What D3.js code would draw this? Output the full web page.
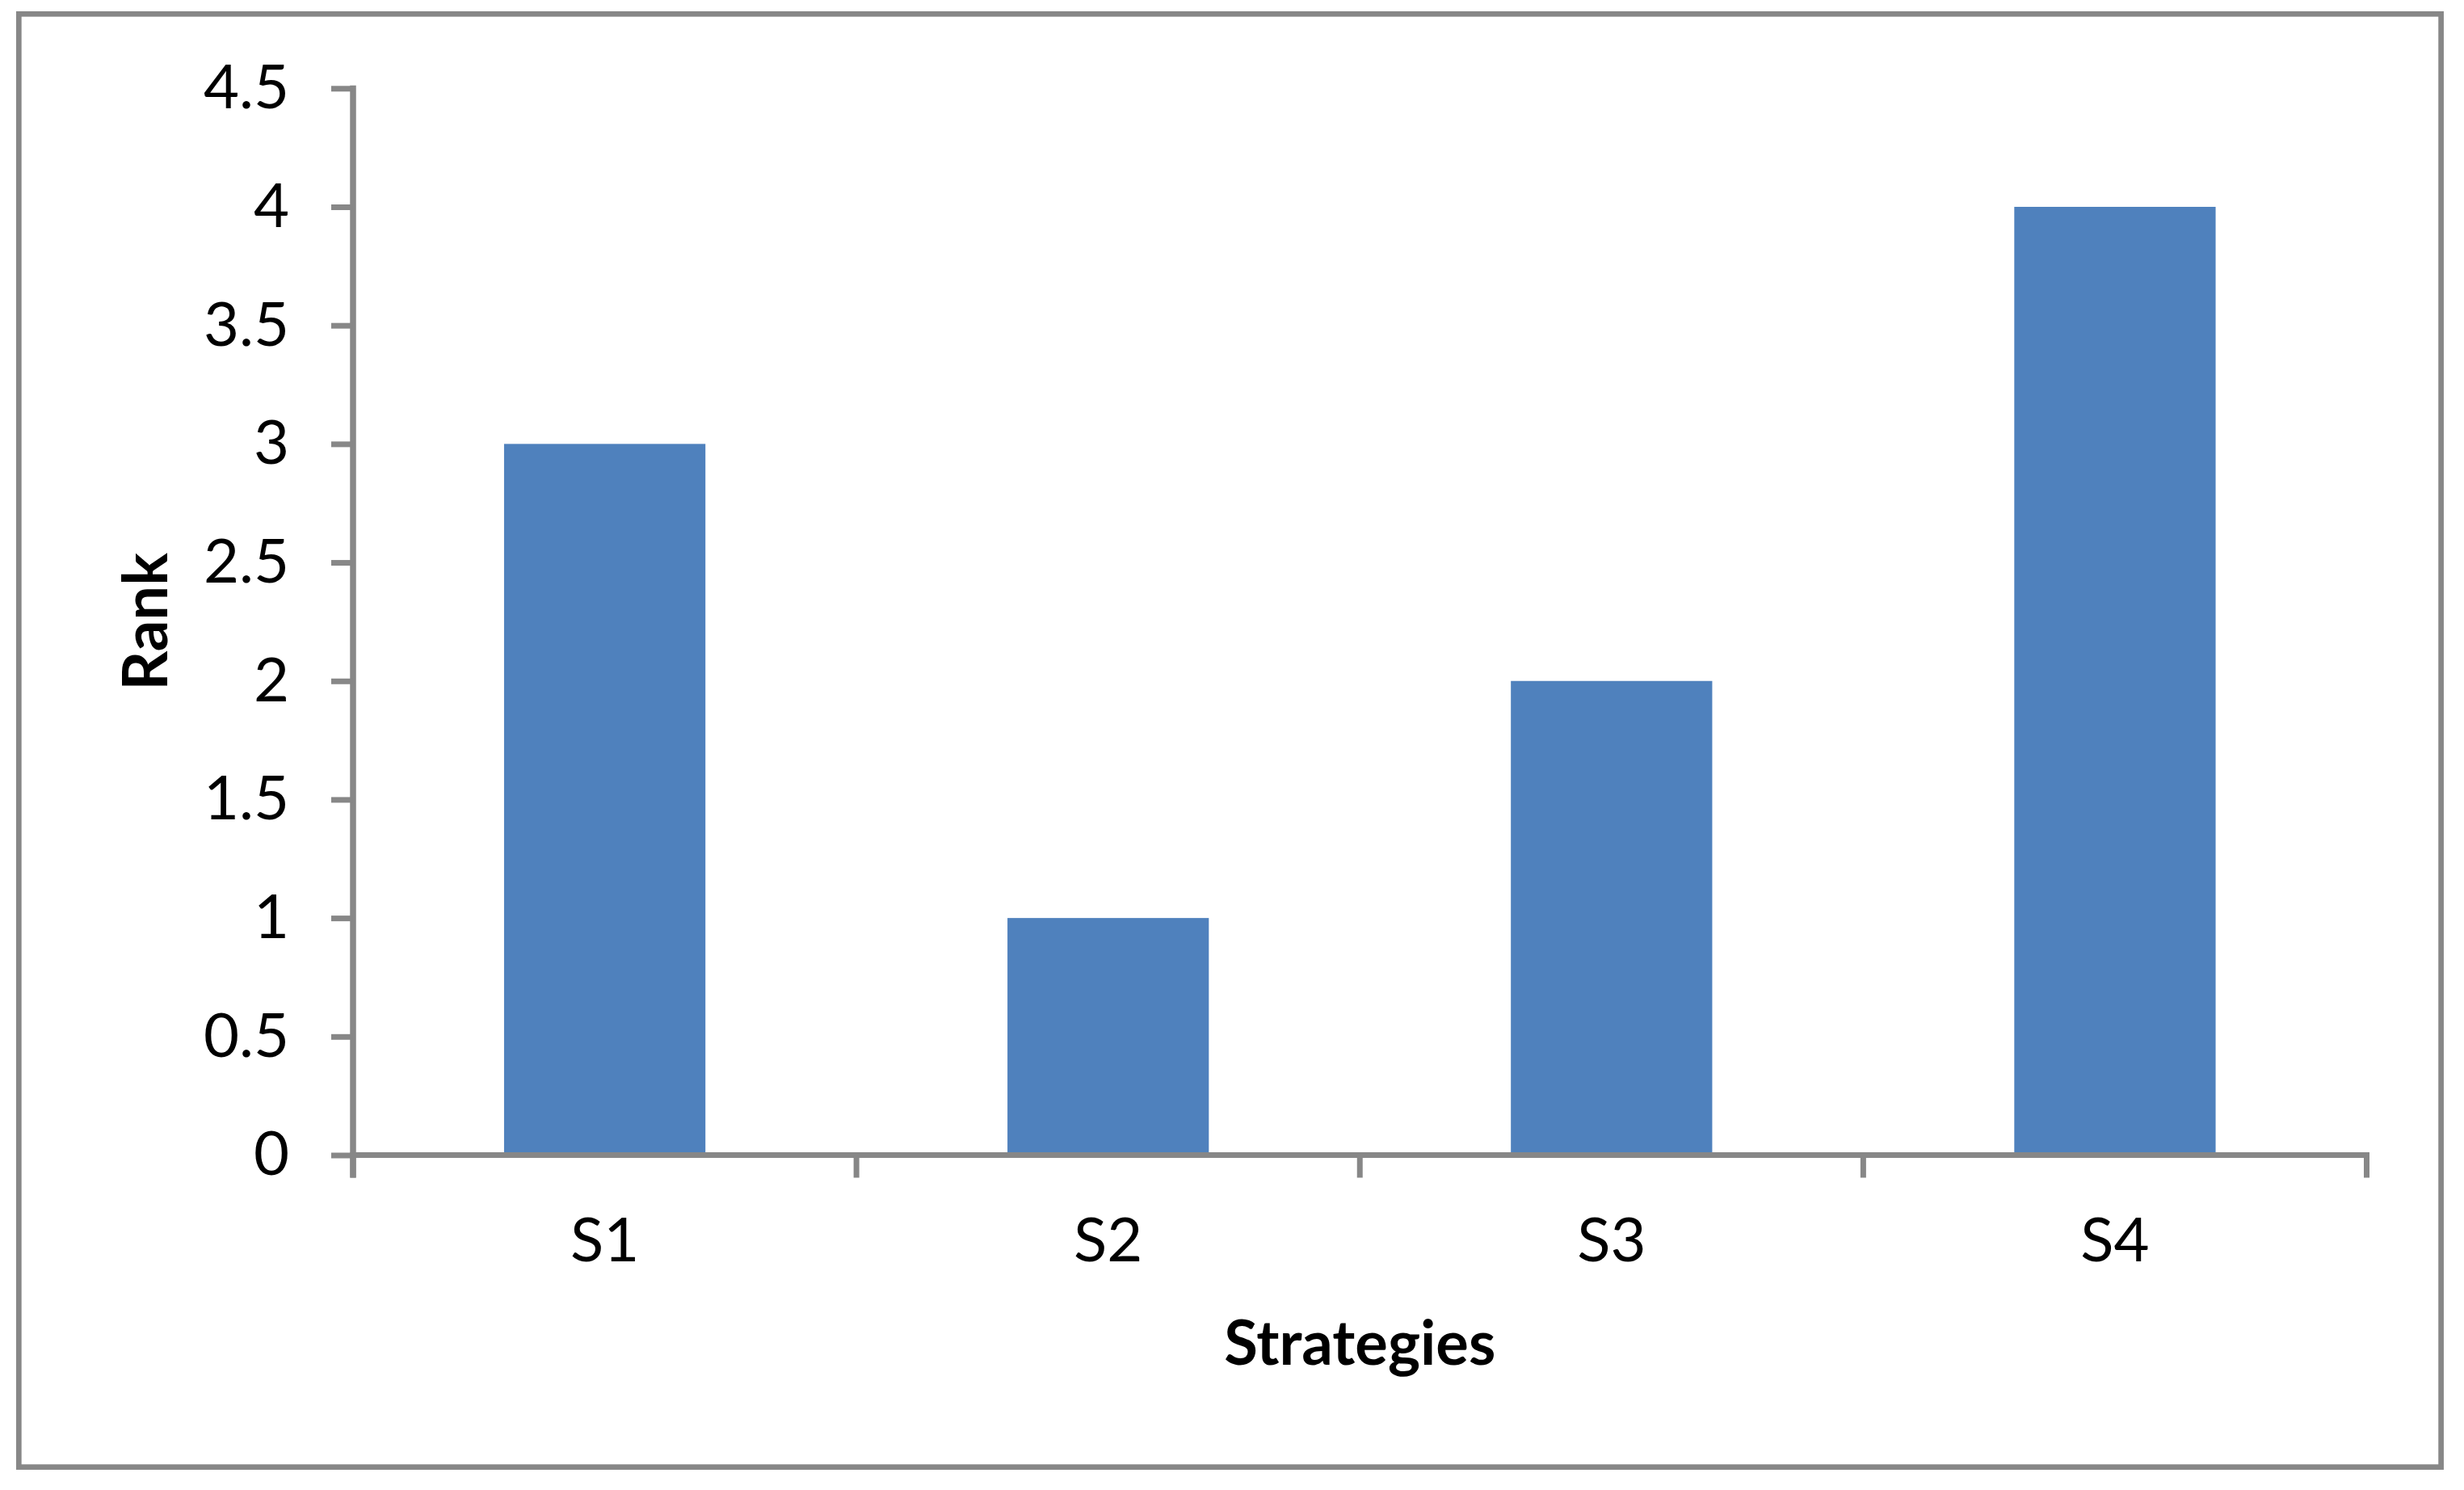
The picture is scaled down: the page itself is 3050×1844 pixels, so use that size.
<!DOCTYPE html>
<html>
<head>
<meta charset="utf-8">
<script src="https://cdn.jsdelivr.net/npm/d3@7"></script>
<style>
  body { margin: 0; background: #fff; }
  text { font-family: Lato, "Open Sans", sans-serif; fill: #000; }
</style>
</head>
<body>
<svg id="chart" width="3050" height="1844"></svg>
<script>
// 数据
var strategies = ['S1', 'S2', 'S3', 'S4'];
var ranks = [3, 1, 2, 4];
var rankTicks = [0, 0.5, 1, 1.5, 2, 2.5, 3, 3.5, 4, 4.5];

// 常量
var WIDTH = 3050;
var HEIGHT = 1844;
var AXIS_COLOR = '#878787';
var BAR_COLOR = '#4f81bd';
var FONT_SIZE = 76;

var plot = {left: 437, right: 2929.5, top: 109.3, bottom: 1429.5};

var svg = d3.select('#chart');

// 外框
svg.append('rect')
    .attr('x', 23.3)
    .attr('y', 17.3)
    .attr('width', 2998.3)
    .attr('height', 1798.3)
    .attr('fill', 'white')
    .attr('stroke', AXIS_COLOR)
    .attr('stroke-width', 6.7);

var x = d3.scaleBand()
    .domain(strategies)
    .range([plot.left, plot.right])
    .paddingInner(0.6)
    .paddingOuter(0.3);

var xCat = d3.scaleBand()
    .domain(strategies)
    .range([plot.left, plot.right]);

var y = d3.scaleLinear()
    .domain([0, 4.5])
    .range([plot.bottom, plot.top]);

// 柱子
svg.append('g')
    .selectAll('rect')
    .data(ranks)
    .enter()
    .append('rect')
    .attr('x', function(d, i) { return x(strategies[i]); })
    .attr('y', function(d) { return y(d); })
    .attr('width', x.bandwidth())
    .attr('height', function(d) { return y(0) - y(d); })
    .attr('fill', BAR_COLOR);

// y 轴
var yAxis = svg.append('g')
    .attr('transform', 'translate(' + plot.left + ',0)')
    .call(d3.axisLeft(y)
        .tickValues(rankTicks)
        .tickFormat(d3.format('~g'))
        .tickSize(27)
        .tickPadding(52));

// x 轴: 刻度在类别边界上
var xEdges = strategies.map(function(s) { return xCat(s); }).concat([plot.right]);
var xAxis = svg.append('g')
    .attr('transform', 'translate(0,' + plot.bottom + ')');
xAxis.append('line')
    .attr('x1', plot.left - 3.5)
    .attr('x2', plot.right + 3.5)
    .attr('stroke', AXIS_COLOR)
    .attr('stroke-width', 7);
xAxis.selectAll('.edge')
    .data(xEdges)
    .enter()
    .append('line')
    .attr('class', 'edge')
    .attr('x1', function(d) { return d; })
    .attr('x2', function(d) { return d; })
    .attr('y1', 0)
    .attr('y2', 28)
    .attr('stroke', AXIS_COLOR)
    .attr('stroke-width', 7);
xAxis.selectAll('.lbl')
    .data(strategies)
    .enter()
    .append('text')
    .attr('class', 'lbl')
    .attr('x', function(d) { return xCat(d) + xCat.bandwidth() / 2; })
    .attr('y', 78)
    .attr('dy', '0.71em')
    .attr('text-anchor', 'middle')
    .style('font-size', FONT_SIZE + 'px')
    .text(function(d) { return d; });

yAxis.select('.domain')
    .attr('stroke', AXIS_COLOR)
    .attr('stroke-width', 7.5)
    .attr('d', 'M0,' + (plot.top - 3.5) + 'V' + (plot.bottom + 28));
yAxis.selectAll('.tick line')
    .attr('stroke', AXIS_COLOR)
    .attr('stroke-width', 7);
yAxis.selectAll('.tick text')
    .attr('fill', '#000')
    .style('font-family', 'Lato, "Open Sans", sans-serif')
    .style('font-size', FONT_SIZE + 'px');

// 轴标题
svg.append('text')
    .attr('x', (plot.left + plot.right) / 2)
    .attr('y', 1689)
    .attr('text-anchor', 'middle')
    .style('font-size', FONT_SIZE + 'px')
    .style('font-weight', 'bold')
    .text('Strategies');

svg.append('text')
    .attr('transform', 'translate(207,' + ((plot.top + plot.bottom) / 2) + ') rotate(-90)')
    .attr('text-anchor', 'middle')
    .style('font-size', FONT_SIZE + 'px')
    .style('font-weight', 'bold')
    .text('Rank');
</script>
</body>
</html>
